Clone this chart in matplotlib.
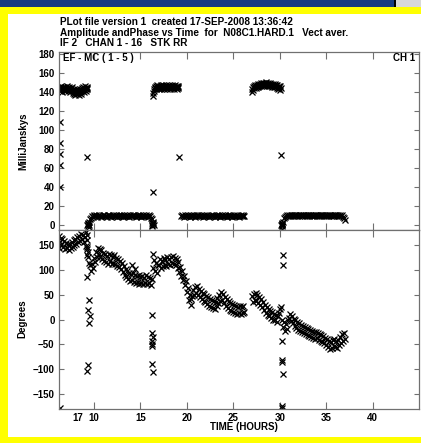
import numpy as np
import matplotlib.pyplot as plt
from matplotlib.patches import Rectangle

# AIPS style amplitude / phase vs time plot

# amplitude (mJy), high segments
amp_hi1_t = (6.25, 9.3)
amp_hi1 = [143, 145, 141, 144, 142, 146, 143, 140, 144, 145, 142, 143, 141, 145, 144, 142, 146, 143, 141, 144,
           143, 145, 142, 140, 144, 143, 141, 145, 142, 139, 141, 143, 138, 140, 142, 137, 141, 139, 143, 138,
           140, 142, 139, 137, 141, 143, 140, 138, 142, 144, 141, 143, 145, 142, 140, 144, 146, 143, 141, 145,
           143, 144]
amp_hi2_t = (16.35, 19.1)
amp_hi2 = [136, 139, 141, 143, 145, 144, 146, 143, 145, 147, 144, 146, 145, 143, 146, 144, 147, 145, 143, 146,
           145, 144, 147, 146, 143, 145, 146, 144, 147, 145, 143, 146, 145, 147, 144, 146, 145, 143, 146, 144,
           147, 145, 146, 144, 143, 146, 145, 147, 144, 145, 146, 143, 145, 144, 146]
amp_hi3_t = (27.0, 30.1)
amp_hi3 = [140, 143, 145, 142, 146, 144, 145, 147, 144, 146, 145, 147, 146, 148, 145, 147, 146, 148, 147, 149,
           146, 148, 147, 149, 148, 146, 149, 147, 148, 150, 147, 149, 148, 146, 149, 147, 148, 146, 147, 149,
           148, 146, 147, 145, 148, 146, 147, 145, 146, 148, 145, 147, 146, 144, 147, 145, 143, 146, 144, 142,
           146, 144]

# amplitude, low segments
amp_lo1_t = (9.55, 16.2)
amp_lo1 = [6, 7, 9, 8, 10, 9, 9, 10, 8, 9, 10, 9, 8, 9, 10, 11, 9, 9, 8, 10, 9, 10, 9, 8, 9, 10, 9, 9, 10, 8,
           9, 11, 9, 10, 9, 8, 9, 10, 9, 9, 10, 9, 8, 10, 9, 9, 11, 10, 9, 8, 9, 10, 9, 9, 10, 8, 9, 10, 9, 9,
           10, 9, 8, 10, 9, 7, 6]
amp_lo2_t = (19.4, 26.2)
amp_lo2 = [9, 10, 9, 8, 10, 9, 9, 10, 9, 8, 9, 10, 9, 9, 10, 8, 9, 10, 11, 9, 9, 10, 9, 8, 9, 10, 9, 9, 10, 9,
           8, 9, 10, 9, 10, 9, 8, 9, 10, 9, 9, 10, 8, 9, 10, 9, 9, 10, 9, 8, 10, 9, 9, 10, 9, 8, 9, 10, 9, 9,
           10, 9, 8, 9, 10, 9, 10, 9, 9]
amp_lo3_t = (30.5, 37.0)
amp_lo3 = [7, 8, 9, 10, 9, 10, 9, 11, 10, 9, 10, 9, 10, 11, 9, 10, 9, 10, 10, 9, 11, 10, 9, 10, 9, 10, 11, 9,
           10, 10, 9, 10, 9, 11, 10, 9, 10, 9, 10, 10, 9, 10, 11, 9, 10, 9, 10, 9, 10, 11, 9, 10, 9, 10, 9, 10,
           11, 9, 10, 9, 10, 9, 11, 8, 7, 5]

# amplitude stray points
amp_odd_t = [6.3, 6.3, 6.3, 6.3, 6.3, 9.2, 9.28, 9.32, 9.36, 9.40, 9.44, 9.48, 9.34, 9.42,
             16.25, 16.3, 16.35, 16.4, 16.45, 16.3, 16.38, 16.35, 19.15,
             30.1, 30.15, 30.2, 30.25, 30.3, 30.35, 30.22, 30.28, 30.25]
amp_odd = [108, 86, 75, 63, 40, 72, 0, 2, -1, 1, 3, 0, 1, -2,
           2, 0, 3, 1, 0, -1, 2, 35, 72,
           74, 0, 2, -1, 1, 3, 0, 1, -4]

# phase (degrees)
ph1_t = (6.2, 9.5)
ph1 = [168, 156, 164, 150, 162, 146, 157, 141, 154, 143, 152, 139, 151, 144, 155, 146, 159, 149, 162, 152,
       165, 155, 168, 158, 172, 161, 170, 156, 166, 148, 142, 130, 125, 113]
ph2_t = (9.6, 16.2)
ph2 = [110, 98, 112, 104, 124, 116, 136, 126, 144, 132, 142, 126, 140, 122, 134, 118, 132, 116, 128, 112,
       132, 118, 130, 112, 126, 114, 130, 112, 124, 108, 122, 106, 118, 102, 114, 96, 108, 90, 102, 86,
       98, 82, 94, 78, 92, 80, 94, 76, 90, 74, 88, 76, 90, 72, 86, 74, 88, 72, 84, 74,
       90, 72, 86, 74, 84, 70, 82]
ph3_t = (16.4, 26.2)
ph3 = [104, 120, 98, 114, 94, 110, 110, 122, 104, 118, 108, 124, 110, 120, 108, 126, 112, 122, 110, 126,
       114, 128, 112, 124, 110, 122, 104, 116, 96, 106, 88, 98, 80, 88, 70, 78,
       56, 64, 40, 50, 30, 42, 48, 60, 50, 66, 54, 68, 50, 62, 46, 58, 42, 54, 38, 52,
       36, 48, 32, 46, 28, 42, 26, 40, 24, 38, 22, 36, 28, 44, 34, 50, 38, 56, 40, 52,
       34, 46, 28, 42, 24, 38, 20, 34, 18, 32, 16, 30, 14, 28, 12, 26, 14, 28, 12, 26,
       14, 28, 16]
ph4_t = (27.0, 30.1)
ph4 = [48, 36, 52, 40, 54, 38, 50, 34, 46, 30, 42, 26, 36, 20, 30, 14, 26, 10, 22, 8,
       18, 4, 16, 0, 12, -2, 10, -6, 8, 14, 22, 26]
ph5_t = (30.3, 37.0)
ph5 = [0, -16, -6, -24, -10, -20, -2, 4, 12, -4, 8, -8, 2, -14, -2, -18, -6, -22, -8, -24,
       -12, -26, -14, -28, -16, -30, -18, -32, -20, -34, -22, -36, -24, -38, -26, -40, -26, -38, -28, -42,
       -30, -44, -32, -46, -34, -48, -38, -52, -40, -56, -44, -60, -46, -58, -42, -54, -40, -56, -44, -58,
       -42, -52, -36, -48, -30, -44, -28, -40]

ph_odd_t = [6.23, 6.35, 9.15, 9.2, 9.25, 9.3, 9.35, 9.28, 9.46, 9.32, 9.57, 9.46, 9.38, 9.21,
            14.1, 14.4, 16.37, 16.3, 16.3, 16.33, 16.28, 16.25, 16.3, 16.26, 16.4,
            30.35, 30.4, 30.2, 30.25, 30.3, 30.4, 30.2, 30.22]
ph_odd = [143, -177, 175, 170, 160, 145, 135, 85, 40, 20, 8, -7, -92, -103,
          110, 101, 131, 10, -27, -35, -43, -50, -53, -90, -106,
          130, 110, -44, -82, -86, -110, -174, -178]

xticks = [10, 15, 20, 25, 30, 35, 40]
xlabels = ['10', '15', '20', '25', '30', '35', '40']

W, H = 421, 443


def fx(x):
    return x / W


def fy(y):
    return 1 - y / H


plt.rcParams['font.family'] = ['Liberation Sans', 'DejaVu Sans']
plt.rcParams['font.weight'] = 'bold'

fig = plt.figure(figsize=(W / 100, H / 100), dpi=100, facecolor='#ffff00')

# window decorations
fig.add_artist(Rectangle((0, fy(7)), 1, 7 / H, facecolor='#173a80', edgecolor='none',
                         transform=fig.transFigure, zorder=-5))
fig.add_artist(Rectangle((fx(396), fy(7)), 25 / W, 7 / H, facecolor='#d8d8d8', edgecolor='none',
                         transform=fig.transFigure, zorder=-4))
fig.add_artist(Rectangle((fx(394), fy(7)), 2 / W, 7 / H, facecolor='black', edgecolor='none',
                         transform=fig.transFigure, zorder=-4))
fig.add_artist(Rectangle((fx(8), fy(437)), 413 / W, 423 / H, facecolor='white', edgecolor='none',
                         transform=fig.transFigure, zorder=-5))

left, right = 58.7, 419
ax1 = fig.add_axes([fx(left), fy(230), (right - left) / W, (230 - 52) / H])
ax2 = fig.add_axes([fx(left), fy(409), (right - left) / W, (409 - 230) / H])

mk = dict(ls='none', marker='x', ms=4.3, mew=0.9, color='black')

for (t0, t1), v in [(amp_hi1_t, amp_hi1), (amp_hi2_t, amp_hi2), (amp_hi3_t, amp_hi3),
                    (amp_lo1_t, amp_lo1), (amp_lo2_t, amp_lo2), (amp_lo3_t, amp_lo3)]:
    ax1.plot(np.linspace(t0, t1, len(v)), v, **mk)
ax1.plot(amp_odd_t, amp_odd, **mk)

for (t0, t1), v in [(ph1_t, ph1), (ph2_t, ph2), (ph3_t, ph3), (ph4_t, ph4), (ph5_t, ph5)]:
    ax2.plot(np.linspace(t0, t1, len(v)), v, **mk)
ax2.plot(ph_odd_t, ph_odd, **mk)

for ax in (ax1, ax2):
    ax.set_xlim(6.2, 45)
    ax.set_xticks(xticks)
    for s in ax.spines.values():
        s.set_color('#707070')
        s.set_linewidth(0.9)
    ax.tick_params(axis='x', direction='in', top=True, bottom=True, length=5, width=0.8,
                   color='#707070', labelsize=7, pad=3)
    ax.tick_params(axis='y', direction='in', left=True, right=True, length=3.5, width=0.8,
                   color='#707070', labelsize=7, pad=3)

ax1.set_ylim(-5.3, 182)
ax1.set_yticks(range(0, 181, 20))
ax1.tick_params(axis='x', labelbottom=False)

ax2.set_ylim(-180, 180)
ax2.set_yticks([-150, -100, -50, 0, 50, 100, 150])
ax2.set_xticklabels(xlabels)

# texts
fig.text(fx(60), fy(22), 'PLot file version 1  created 17-SEP-2008 13:36:42', fontsize=7.2, va='center')
fig.text(fx(60), fy(33), 'Amplitude andPhase vs Time  for  N08C1.HARD.1   Vect aver.', fontsize=7.2, va='center')
fig.text(fx(60), fy(43.5), 'IF 2   CHAN 1 - 16   STK RR', fontsize=7.2, va='center')
fig.text(fx(63), fy(58), 'EF - MC ( 1 - 5 )', fontsize=7, va='center')
fig.text(fx(415), fy(58), 'CH 1', fontsize=7, va='center', ha='right')
fig.text(fx(23), fy(141), 'MilliJanskys', fontsize=7, rotation=90, va='center', ha='center')
fig.text(fx(22), fy(319), 'Degrees', fontsize=7, rotation=90, va='center', ha='center')
fig.text(fx(78), fy(418), '17', fontsize=7, va='center', ha='center')
fig.text(fx(244), fy(427.5), 'TIME (HOURS)', fontsize=7, va='center', ha='center')

fig.savefig('out.png', dpi=100, facecolor=fig.get_facecolor())
